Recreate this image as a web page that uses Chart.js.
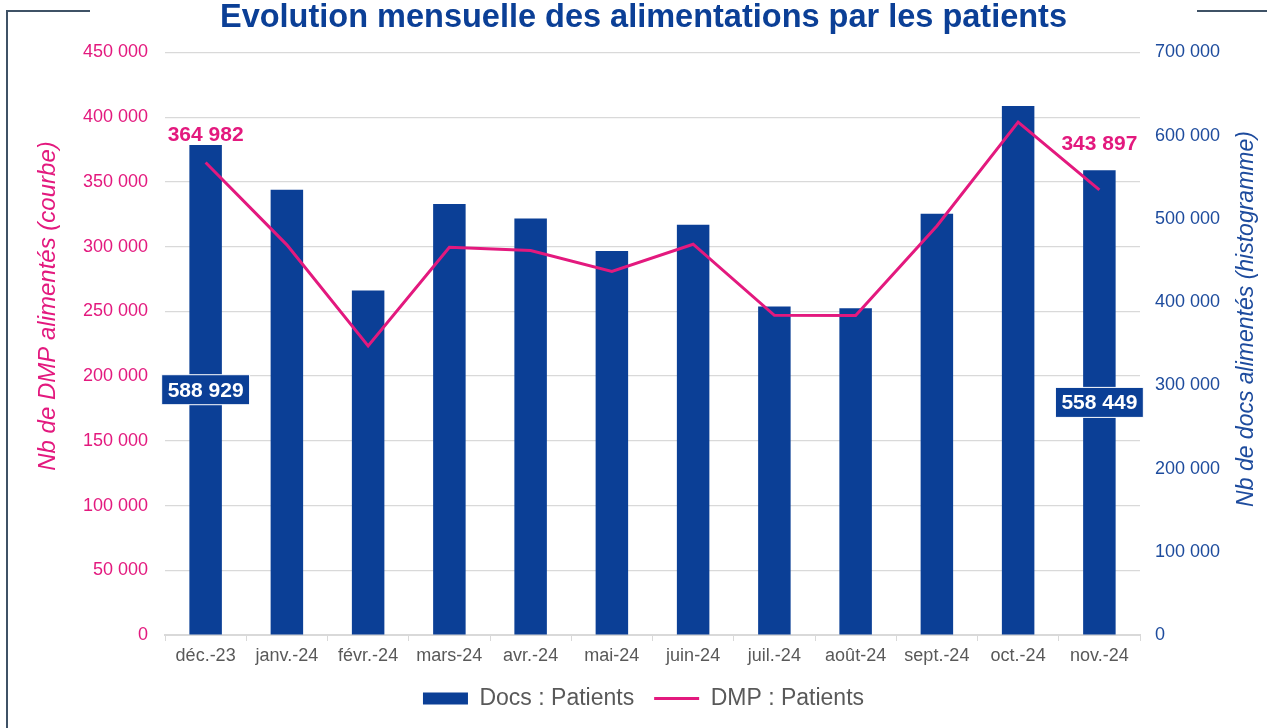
<!DOCTYPE html>
<html lang="fr">
<head>
<meta charset="utf-8">
<title>Evolution mensuelle des alimentations par les patients</title>
<script src="https://cdn.jsdelivr.net/npm/chart.js@4.4.1/dist/chart.umd.min.js"></script>
<style>
  html, body { margin: 0; padding: 0; background: #fff; }
  .wrap { position: relative; width: 1267px; height: 728px; }
</style>
</head>
<body>
<div class="wrap"><canvas id="alimentations"></canvas></div>
<script>
const mois = ['déc.-23', 'janv.-24', 'févr.-24', 'mars-24', 'avr.-24', 'mai-24', 'juin-24', 'juil.-24', 'août-24', 'sept.-24', 'oct.-24', 'nov.-24'];
// histogramme (axe de droite)
const docsPatients = [588929, 535000, 414000, 517800, 500500, 461600, 492900, 394700, 392700, 506100, 635600, 558449];
// courbe (axe de gauche)
const dmpPatients = [364982, 301400, 223300, 299600, 297000, 280800, 301900, 247000, 246800, 316000, 396200, 343897];

const dmpMax = 450000, dmpStep = 50000;
const docsMax = 700000, docsStep = 100000;
const labelled = [0, 11]; // mois avec étiquette

const BLUE = '#0b3f96';
const PINK = '#e3197e';
const GRID = '#d9d9d9';
const FONT = "'Liberation Sans', Arial, sans-serif";

Chart.defaults.font.family = FONT;

function fmt(v) {
  return String(Math.round(v)).replace(/\B(?=(\d{3})+(?!\d))/g, ' ');
}

const decor = {
  id: 'decor',
  beforeDraw(chart) {
    const ctx = chart.ctx;
    ctx.save();
    ctx.strokeStyle = '#3f5266';
    ctx.lineWidth = 2;
    ctx.beginPath();
    ctx.moveTo(90, 11); ctx.lineTo(7, 11); ctx.lineTo(7, 728);
    ctx.moveTo(1197, 11); ctx.lineTo(1267, 11);
    ctx.stroke();
    ctx.restore();
  },
  afterDatasetsDraw(chart) {
    const ctx = chart.ctx;
    const bars = chart.getDatasetMeta(0).data;
    const pts = chart.getDatasetMeta(1).data;
    const lift = [27, 46];
    ctx.save();
    ctx.font = 'bold 21px ' + FONT;
    ctx.textAlign = 'center';
    ctx.textBaseline = 'middle';
    labelled.forEach((i, k) => {
      // étiquette de la barre
      const b = bars[i];
      const cy = (b.y + b.base) / 2;
      const txt = fmt(docsPatients[i]);
      const w = ctx.measureText(txt).width + 12;
      ctx.fillStyle = BLUE;
      ctx.fillRect(b.x - w / 2, cy - 15, w, 30);
      ctx.strokeStyle = '#ffffff';
      ctx.lineWidth = 1;
      ctx.strokeRect(b.x - w / 2, cy - 15, w, 30);
      ctx.fillStyle = '#ffffff';
      ctx.fillText(txt, b.x, cy + 1);
      // étiquette de la courbe
      const p = pts[i];
      ctx.fillStyle = PINK;
      ctx.fillText(fmt(dmpPatients[i]), p.x, p.y - lift[k]);
    });
    ctx.restore();
  },
  afterDraw(chart) {
    const ctx = chart.ctx;
    ctx.save();
    ctx.textAlign = 'center';
    ctx.textBaseline = 'middle';
    ctx.font = 'italic 24px ' + FONT;
    ctx.fillStyle = PINK;
    ctx.translate(48, 306);
    ctx.rotate(-Math.PI / 2);
    ctx.fillText('Nb de DMP alimentés (courbe)', 0, 0);
    ctx.restore();
    ctx.save();
    ctx.textAlign = 'center';
    ctx.textBaseline = 'middle';
    ctx.font = 'italic 23px ' + FONT;
    ctx.fillStyle = '#1d4b9d';
    ctx.translate(1247, 319);
    ctx.rotate(-Math.PI / 2);
    ctx.fillText('Nb de docs alimentés (histogramme)', 0, 0);
    ctx.restore();
  }
};

new Chart(document.getElementById('alimentations'), {
  type: 'bar',
  data: {
    labels: mois,
    datasets: [{
      type: 'bar',
      label: 'Docs : Patients',
      data: docsPatients,
      yAxisID: 'y1',
      backgroundColor: BLUE,
      borderWidth: 0,
      categoryPercentage: 1,
      barPercentage: 0.4,
      order: 1
    }, {
      type: 'line',
      label: 'DMP : Patients',
      data: dmpPatients,
      yAxisID: 'y',
      borderColor: PINK,
      backgroundColor: PINK,
      borderWidth: 3,
      pointRadius: 0,
      tension: 0,
      order: 0
    }]
  },
  options: {
    responsive: true,
    maintainAspectRatio: false,
    animation: false,
    layout: { padding: { left: 20, right: 0, top: 0, bottom: 8 } },
    plugins: {
      title: {
        display: true,
        text: 'Evolution mensuelle des alimentations par les patients',
        color: BLUE,
        font: { size: 32.5, weight: 'bold', lineHeight: 1 },
        padding: { top: 2, bottom: 18 }
      },
      legend: {
        position: 'bottom',
        labels: {
          color: '#595959',
          font: { size: 23 },
          usePointStyle: true,
          pointStyleWidth: 45,
          boxHeight: 12,
          padding: 20,
          sort: (a, b) => a.datasetIndex - b.datasetIndex,
          generateLabels(chart) {
            const items = Chart.defaults.plugins.legend.labels.generateLabels(chart);
            items.forEach(it => { it.pointStyle = it.datasetIndex === 0 ? 'rect' : 'line'; });
            return items;
          }
        }
      },
      tooltip: { enabled: false }
    },
    scales: {
      x: {
        grid: { drawOnChartArea: false, drawTicks: true, tickLength: 6, color: GRID, offset: true },
        border: { display: true, color: GRID, width: 2 },
        ticks: { color: '#595959', font: { size: 18 }, padding: 4, maxRotation: 0, autoSkip: false },
        afterFit(scale) { scale.height = 32; }
      },
      y: {
        position: 'left',
        min: 0,
        max: dmpMax,
        grid: { color: GRID, drawTicks: false, lineWidth: 1.3 },
        border: { display: false },
        ticks: { stepSize: dmpStep, color: PINK, font: { size: 18 }, padding: 17, callback: v => fmt(v) },
        afterFit(scale) { scale.width = 145; }
      },
      y1: {
        position: 'right',
        min: 0,
        max: docsMax,
        grid: { drawOnChartArea: false, drawTicks: false },
        border: { display: false },
        ticks: { stepSize: docsStep, color: '#1d4b9d', font: { size: 18 }, padding: 15, callback: v => fmt(v) },
        afterFit(scale) { scale.width = 127; }
      }
    }
  },
  plugins: [decor]
});
</script>
</body>
</html>
